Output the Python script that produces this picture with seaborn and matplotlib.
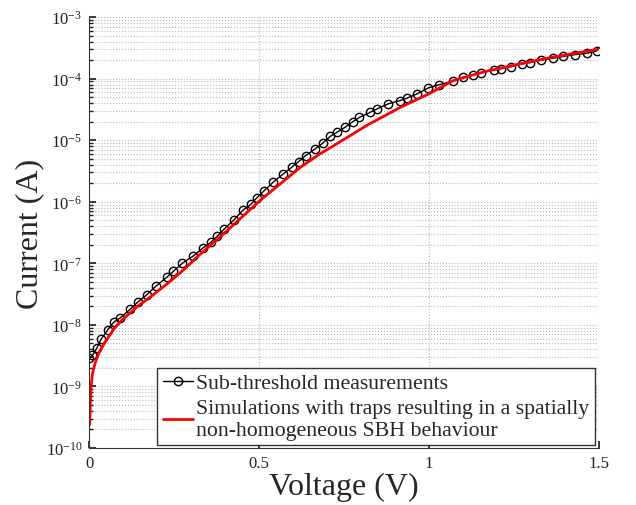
import numpy as np
import pandas as pd
import seaborn as sns
import matplotlib.pyplot as plt
from matplotlib.ticker import LogLocator, NullFormatter, NullLocator

# measured sub-threshold current
meas_v = [0.000, 0.010, 0.023, 0.035, 0.055, 0.072, 0.091, 0.120, 0.143, 0.170,
          0.197, 0.228, 0.248, 0.274, 0.307, 0.334, 0.358, 0.377, 0.398, 0.427,
          0.452, 0.476, 0.493, 0.515, 0.542, 0.571, 0.596, 0.616, 0.637, 0.665,
          0.687, 0.709, 0.730, 0.753, 0.776, 0.795, 0.826, 0.848, 0.880, 0.913,
          0.934, 0.964, 0.998, 1.030, 1.070, 1.100, 1.128, 1.153, 1.191, 1.211,
          1.240, 1.273, 1.297, 1.329, 1.364, 1.395, 1.429, 1.464, 1.493]
meas_i = [2.9e-9, 3.2e-9, 4.2e-9, 5.8e-9, 8.3e-9, 1.10e-8, 1.29e-8, 1.78e-8, 2.34e-8, 3.09e-8,
          4.27e-8, 5.89e-8, 7.41e-8, 1.00e-7, 1.32e-7, 1.76e-7, 2.19e-7, 2.75e-7, 3.63e-7, 5.13e-7,
          7.24e-7, 9.12e-7, 1.15e-6, 1.51e-6, 2.09e-6, 2.82e-6, 3.63e-6, 4.47e-6, 5.62e-6, 7.24e-6,
          8.91e-6, 1.15e-5, 1.35e-5, 1.62e-5, 2.00e-5, 2.34e-5, 2.82e-5, 3.24e-5, 3.89e-5, 4.37e-5,
          4.79e-5, 5.62e-5, 7.08e-5, 7.94e-5, 9.12e-5, 1.05e-4, 1.15e-4, 1.23e-4, 1.38e-4, 1.45e-4,
          1.55e-4, 1.74e-4, 1.82e-4, 2.00e-4, 2.14e-4, 2.29e-4, 2.45e-4, 2.57e-4, 2.82e-4]

# simulation with traps
sim_v = [0.002, 0.004, 0.006, 0.010, 0.013, 0.020, 0.030, 0.044, 0.060, 0.075,
         0.097, 0.140, 0.184, 0.235, 0.282, 0.320, 0.398, 0.503, 0.621, 0.679,
         0.719, 0.817, 0.915, 0.998, 1.071, 1.169, 1.268, 1.365, 1.498]
sim_i = [2.4e-10, 6.0e-10, 1.0e-9, 1.6e-9, 1.9e-9, 2.6e-9, 3.6e-9, 4.9e-9, 6.7e-9, 8.9e-9,
         1.2e-8, 1.95e-8, 2.95e-8, 4.9e-8, 8.2e-8, 1.3e-7, 3.1e-7, 1.05e-6, 3.6e-6, 6.0e-6,
         8.1e-6, 1.74e-5, 3.4e-5, 5.6e-5, 9.3e-5, 1.32e-4, 1.74e-4, 2.24e-4, 3.0e-4]

meas = pd.DataFrame({"Voltage": meas_v, "Current": meas_i})
sim = pd.DataFrame({"Voltage": sim_v, "Current": sim_i})

sns.set_theme(style="white")
plt.rcParams["font.family"] = ["Liberation Serif", "DejaVu Serif"]
plt.rcParams["mathtext.fontset"] = "custom"
plt.rcParams["mathtext.rm"] = "Liberation Serif"
plt.rcParams["mathtext.it"] = "Liberation Serif:italic"

fig = plt.figure(figsize=(6.36, 5.06), dpi=100)
ax = fig.add_axes([0.140, 0.1126, 0.802, 0.8518])

sns.lineplot(data=meas, x="Voltage", y="Current", ax=ax, color="black", lw=1,
             marker="o", markersize=6, markerfacecolor="none", markeredgecolor="black",
             markeredgewidth=1, estimator=None, sort=False,
             label="Sub-threshold measurements")
sns.lineplot(data=sim, x="Voltage", y="Current", ax=ax, color="red", lw=2,
             estimator=None, sort=False,
             label="Simulations with traps resulting in a spatially\nnon-homogeneous SBH behaviour")

ax.set_yscale("log")
ax.set_xlim(0, 1.5)
ax.set_ylim(1e-10, 1e-3)
ax.set_xticks([0, 0.5, 1, 1.5])
ax.set_xticklabels(["0", "0.5", "1", "1.5"])
ax.xaxis.set_minor_locator(NullLocator())
ax.yaxis.set_major_locator(LogLocator(base=10, numticks=20))
ax.yaxis.set_minor_locator(LogLocator(base=10, subs=np.arange(2, 10), numticks=20))
ax.yaxis.set_minor_formatter(NullFormatter())

ax.grid(True, which="major", axis="both", color="#b8b8b8", linestyle=":", lw=0.8)
ax.grid(True, which="minor", axis="y", color="#b8b8b8", linestyle=":", lw=0.8)

for side in ["top", "right"]:
    ax.spines[side].set_visible(False)
for side in ["left", "bottom"]:
    ax.spines[side].set_color("#333333")
    ax.spines[side].set_linewidth(0.8)

ax.tick_params(which="both", direction="in", labelsize=12, colors="#222222",
               left=True, bottom=True)
ax.tick_params(which="major", length=5, pad=5)
ax.tick_params(which="minor", length=3)

ax.set_xlabel("Voltage (V)", fontsize=23, labelpad=1)
ax.set_ylabel("Current (A)", fontsize=23)
ax.yaxis.set_label_coords(-0.088, 0.5)

leg = ax.legend(loc="lower right", fontsize=15.7, frameon=True, fancybox=False,
                edgecolor="#333333", framealpha=1, handlelength=1.4,
                borderpad=0.25, labelspacing=0.25, handletextpad=0.15,
                borderaxespad=0, bbox_to_anchor=(0.992, 0.007))
leg.get_frame().set_linewidth(1)

fig.savefig("out.png", dpi=100)
